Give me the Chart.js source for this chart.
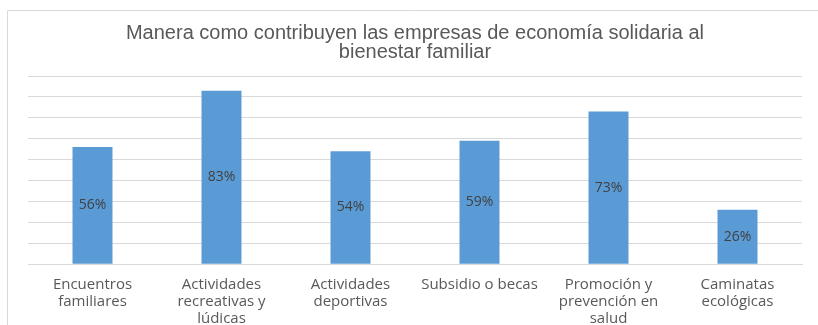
<!DOCTYPE html>
<html>
<head>
<meta charset="utf-8">
<script src="https://cdn.jsdelivr.net/npm/chart.js@4"></script>
<style>
  html, body { margin: 0; padding: 0; background: #fff; }
  #wrap { width: 818px; height: 325px; position: relative; }
</style>
</head>
<body>
<div id="wrap"><canvas id="barCanvas" width="818" height="325"></canvas></div>
<script>
const categorias = [
  ['Encuentros', 'familiares'],
  ['Actividades', 'recreativas y', 'lúdicas'],
  ['Actividades', 'deportivas'],
  'Subsidio o becas',
  ['Promoción y', 'prevención en', 'salud'],
  ['Caminatas', 'ecológicas']
];
const valores = [56, 83, 54, 59, 73, 26];
const titulo = ['Manera como contribuyen las empresas de economía solidaria al', 'bienestar familiar'];

// frame around the chart, like the office export
const marco = {
  id: 'marco',
  beforeDraw(chart) {
    const c = chart.ctx;
    c.save();
    c.strokeStyle = '#d9d9d9';
    c.lineWidth = 1;
    c.beginPath();
    c.moveTo(7.5, 325);
    c.lineTo(7.5, 10.5);
    c.lineTo(818, 10.5);
    c.stroke();
    c.restore();
  }
};

// percentage labels in the middle of each bar
const etiquetas = {
  id: 'etiquetas',
  afterDatasetsDraw(chart) {
    const c = chart.ctx;
    const meta = chart.getDatasetMeta(0);
    c.save();
    c.fillStyle = '#404040';
    c.font = '14px "Open Sans", sans-serif';
    c.textAlign = 'center';
    c.textBaseline = 'middle';
    meta.data.forEach((bar, i) => {
      const mid = (bar.y + bar.base) / 2;
      c.fillText(valores[i] + '%', bar.x, mid);
    });
    c.restore();
  }
};

new Chart(document.getElementById('barCanvas'), {
  type: 'bar',
  data: {
    labels: categorias,
    datasets: [{
      data: valores,
      backgroundColor: '#5b9bd5',
      categoryPercentage: 1,
      barPercentage: 0.31
    }]
  },
  options: {
    responsive: false,
    animation: false,
    layout: { padding: { left: 28, right: 16, top: 4, bottom: -6 } },
    plugins: {
      legend: { display: false },
      tooltip: { enabled: false },
      title: {
        display: true,
        text: titulo,
        color: '#595959',
        font: { family: '"Liberation Sans", Arial, sans-serif', size: 20, weight: 'normal', lineHeight: 0.95 },
        padding: { top: 20, bottom: 14 }
      }
    },
    scales: {
      x: {
        grid: { display: false },
        border: { color: '#d9d9d9' },
        ticks: {
          color: '#595959',
          font: { family: '"Open Sans", sans-serif', size: 15, lineHeight: 1.13 },
          maxRotation: 0,
          autoSkip: false,
          padding: 4
        }
      },
      y: {
        min: 0,
        max: 90,
        ticks: { display: false, stepSize: 10 },
        grid: { color: '#d9d9d9', drawTicks: false },
        border: { display: false }
      }
    }
  },
  plugins: [marco, etiquetas]
});
</script>
</body>
</html>
